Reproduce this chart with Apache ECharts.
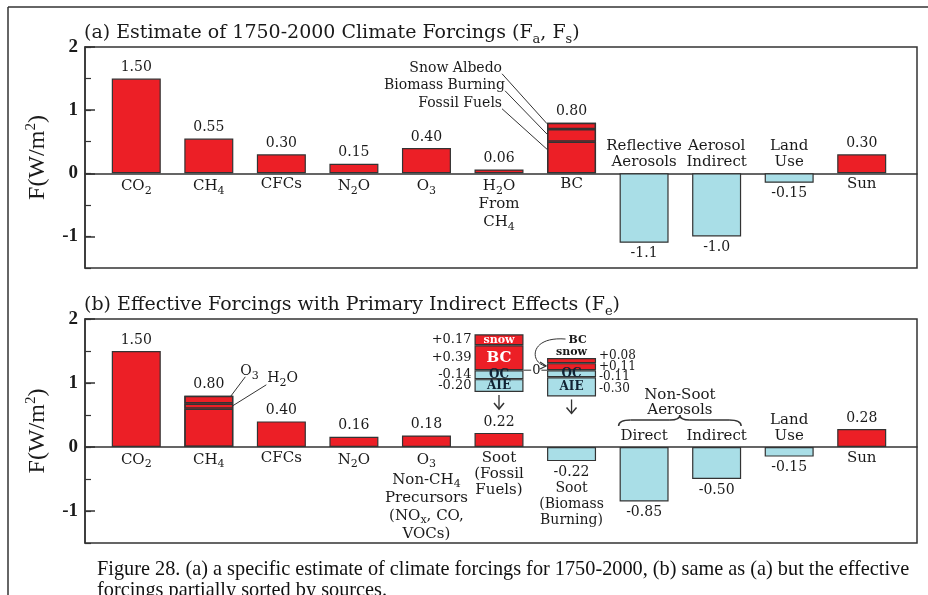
<!DOCTYPE html>
<html>
<head>
<meta charset="utf-8">
<script src="https://cdn.jsdelivr.net/npm/echarts@6/dist/echarts.min.js"></script>
<style>
  html, body { margin: 0; padding: 0; background: #fff; }
  #chart { width: 928px; height: 595px; }
</style>
</head>
<body>
<div id="chart"></div>
<script>
// ---- Panel (a): estimate of 1750-2000 climate forcings ----
const catsA = ['CO{s|2}', 'CH{s|4}', 'CFCs', 'N{s|2}O', 'O{s|3}', 'H{s|2}O\nFrom\nCH{s|4}', 'BC',
  'Reflective\nAerosols', 'Aerosol\nIndirect', 'Land\nUse', 'Sun'];
const valsA = [1.50, 0.55, 0.30, 0.15, 0.40, 0.06, 0.80, -1.1, -1.0, -0.15, 0.30];
const decA = [2, 2, 2, 2, 2, 2, 2, 1, 1, 2, 2];
// black carbon split: fossil fuels, biomass burning, snow albedo
const bcPartNames = ['Fossil Fuels', 'Biomass Burning', 'Snow Albedo'];
const bcParts = [0.50, 0.20, 0.10];

// ---- Panel (b): effective forcings with primary indirect effects ----
const catsB = ['CO{s|2}', 'CH{s|4}', 'CFCs', 'N{s|2}O',
  'O{s|3}\nNon-CH{s|4}\nPrecursors\n(NO{s|x}, CO,\nVOCs)',
  'Soot\n(Fossil\nFuels)', 'Soot\n(Biomass\nBurning)', 'Direct', 'Indirect', 'Land\nUse', 'Sun'];
const valsB = [1.50, 0.80, 0.40, 0.16, 0.18, 0.22, -0.22, -0.85, -0.50, -0.15, 0.28];
const decB = [2, 2, 2, 2, 2, 2, 2, 2, 2, 2, 2];
// methane split: direct, stratospheric H2O, O3
const ch4Parts = [0.60, 0.08, 0.12];
// soot components (BC, snow albedo, organic carbon, aerosol indirect effect)
const sootNames = ['BC', 'snow', 'OC', 'AIE'];
const sootFossil = [0.39, 0.17, -0.14, -0.20];
const sootBiomass = [0.11, 0.08, -0.11, -0.30];
const FOSSIL = 5, BIOMASS = 6;

const yTicks = [-1, 0, 1, 2];

const RED = '#ec1f26', CYAN = '#a9dee7', EDGE = '#333';
const SERIF = '"DejaVu Serif", serif';
const TIMES = '"Liberation Serif", serif';
const TXT = '#1a1a1a';
const BARW = 49;

const rich = {
  s: { fontFamily: SERIF, fontSize: 11, lineHeight: 20, verticalAlign: 'bottom', color: TXT }
};
const labelBase = { fontFamily: SERIF, fontSize: 14, lineHeight: 16, color: TXT, rich: rich };

const chart = echarts.init(document.getElementById('chart'), null, { renderer: 'canvas' });

const frameGrid = (top, height) => ({
  left: 85, right: 11, top: top, height: height, show: true,
  borderColor: EDGE, borderWidth: 1.5, backgroundColor: 'transparent'
});
const barGrid = (top, height) => ({ left: 100, width: 798, top: top, height: height });

const frameX = (g) => ({
  gridIndex: g, type: 'value', min: 0, max: 1,
  axisLine: { show: true, onZero: true, lineStyle: { color: EDGE, width: 1.5 } },
  axisTick: { show: false }, axisLabel: { show: false }, splitLine: { show: false }
});
const hiddenCat = (g, n) => ({
  gridIndex: g, type: 'category', data: Array.from({ length: n }, (_, i) => i), show: false
});
const majorY = (g) => ({
  gridIndex: g, type: 'value', min: -1.5, max: 2, position: 'left',
  axisLine: { show: true, onZero: false, lineStyle: { color: EDGE, width: 1.5 } },
  axisTick: { show: true, inside: true, length: 10, customValues: yTicks, lineStyle: { color: EDGE, width: 1.5 } },
  axisLabel: { customValues: yTicks, margin: 7, fontFamily: TIMES, fontSize: 19, fontWeight: 'bold', color: TXT },
  splitLine: { show: false },
  name: 'F(W/m{p|2})', nameLocation: 'middle', nameGap: 33, nameRotate: 90,
  nameTextStyle: {
    fontFamily: TIMES, fontSize: 24, color: TXT, lineHeight: 28,
    rich: { p: { fontFamily: TIMES, fontSize: 15, verticalAlign: 'top', lineHeight: 28, color: TXT } }
  }
});
const minorY = (g) => ({
  gridIndex: g, type: 'value', min: -1.5, max: 2, interval: 0.5, position: 'left',
  axisLine: { show: false }, axisLabel: { show: false }, splitLine: { show: false },
  axisTick: { show: true, inside: true, length: 6, lineStyle: { color: EDGE, width: 1.2 } }
});
const hiddenY = (g, min, max) => ({ gridIndex: g, type: 'value', min: min, max: max, show: false, splitLine: { show: false } });

// main value bars of a panel
function mainBars(vals, dec, xi, yi, nameUnder) {
  return {
    type: 'bar', xAxisIndex: xi, yAxisIndex: yi, barWidth: BARW, barGap: '-100%', z: 2,
    data: vals.map((v) => ({
      value: v,
      itemStyle: { color: v >= 0 ? RED : CYAN },
      label: { position: v >= 0 ? 'top' : 'bottom' }
    })),
    itemStyle: { borderColor: EDGE, borderWidth: 1.2 },
    label: Object.assign({}, labelBase, {
      show: true, distance: 3,
      formatter: (p) => {
        const t = vals[p.dataIndex].toFixed(dec[p.dataIndex]);
        return nameUnder && nameUnder[p.dataIndex] ? t + '\n' + nameUnder[p.dataIndex] : t;
      }
    }),
    emphasis: { disabled: true }, silent: true, animation: false
  };
}
// outlined sub-divisions inside a single bar
function splitBars(parts, idx, n, xi, yi, stackName) {
  return parts.map((v) => ({
    type: 'bar', xAxisIndex: xi, yAxisIndex: yi, barWidth: BARW, barGap: '-100%', stack: stackName, z: 3,
    data: Array.from({ length: n }, (_, i) => (i === idx ? v : null)),
    itemStyle: { color: 'transparent', borderColor: EDGE, borderWidth: 1.4 },
    emphasis: { disabled: true }, silent: true, animation: false
  }));
}
// category names placed at the zero line
function nameScatter(cats, vals, xi, yi, skip) {
  return {
    type: 'scatter', xAxisIndex: xi, yAxisIndex: yi, symbolSize: 0, z: 4,
    itemStyle: { opacity: 1, color: TXT },
    data: cats.map((c, i) => ({
      value: [i, 0],
      label: { position: vals[i] >= 0 ? 'bottom' : 'top' }
    })),
    label: Object.assign({}, labelBase, {
      show: true, distance: 3, fontSize: 15,
      formatter: (p) => (skip && skip[p.dataIndex] ? '' : cats[p.dataIndex])
    }),
    emphasis: { disabled: true }, silent: true, animation: false
  };
}

const n = catsA.length;
const nameUnderB = {}; nameUnderB[BIOMASS] = catsB[BIOMASS];

// soot component stacks drawn above the soot bars
const sootColors = [RED, RED, CYAN, CYAN];
const fmtSigned = (v) => (v > 0 ? '+' : '') + v.toFixed(2);
const sideOffsetBiomass = [[0, 0], [0, -5], [0, 3], [0, 2]];
const sootStacks = sootNames.map((nm, k) => ({
  type: 'bar', xAxisIndex: 4, yAxisIndex: 6, barWidth: BARW, barGap: '-100%', stack: 'soot', z: 2,
  data: Array.from({ length: n }, (_, i) => {
    if (i === FOSSIL) return { value: sootFossil[k], label: { position: 'left', fontSize: 13 } };
    if (i === BIOMASS) return { value: sootBiomass[k], label: { position: 'right', fontSize: 12, offset: sideOffsetBiomass[k] } };
    return null;
  }),
  itemStyle: { color: sootColors[k], borderColor: EDGE, borderWidth: 1.2 },
  label: {
    show: true, distance: 3, fontFamily: SERIF, color: TXT, lineHeight: 12,
    formatter: (p) => fmtSigned(p.value)
  },
  emphasis: { disabled: true }, silent: true, animation: false
}));
const nameStyles = [
  { color: '#fff', fontSize: 15, fontWeight: 'bold' },
  { color: '#fff', fontSize: 11, fontWeight: 'bold' },
  { color: '#123', fontSize: 12, fontWeight: 'bold' },
  { color: '#123', fontSize: 12, fontWeight: 'bold' }
];
const sootNameStacks = sootNames.map((nm, k) => ({
  type: 'bar', xAxisIndex: 4, yAxisIndex: 6, barWidth: BARW, barGap: '-100%', stack: 'sootNames', z: 3,
  data: Array.from({ length: n }, (_, i) => {
    if (i === FOSSIL) return { value: sootFossil[k] };
    if (i === BIOMASS) return { value: sootBiomass[k], label: { show: k >= 2 } };
    return null;
  }),
  itemStyle: { color: 'transparent', borderWidth: 0 },
  label: Object.assign({ show: true, position: 'inside', fontFamily: SERIF, lineHeight: 12, formatter: nm }, nameStyles[k]),
  emphasis: { disabled: true }, silent: true, animation: false
}));

const option = {
  animation: false,
  grid: [frameGrid(47, 221), barGrid(47, 221), frameGrid(319, 224), barGrid(319, 224), barGrid(319, 224)],
  xAxis: [frameX(0), hiddenCat(1, n), frameX(2), hiddenCat(3, n), hiddenCat(4, n)],
  yAxis: [majorY(0), minorY(0), hiddenY(1, -1.5, 2), majorY(2), minorY(2), hiddenY(3, -1.5, 2), hiddenY(4, -2.7, 0.8)],
  series: [
    mainBars(valsA, decA, 1, 2, null),
    ...splitBars(bcParts, 6, n, 1, 2, 'bcA'),
    nameScatter(catsA, valsA, 1, 2, null),
    mainBars(valsB, decB, 3, 5, nameUnderB),
    ...splitBars(ch4Parts, 1, n, 3, 5, 'ch4B'),
    nameScatter(catsB, valsB, 3, 5, nameUnderB),
    ...sootStacks,
    ...sootNameStacks
  ]
};
chart.setOption(option);

// ---- annotations positioned from the axes ----
const pa = (i, v) => chart.convertToPixel({ xAxisIndex: 1, yAxisIndex: 2 }, [i, v]);
const pb = (i, v) => chart.convertToPixel({ xAxisIndex: 3, yAxisIndex: 5 }, [i, v]);
const pin = (i, v) => chart.convertToPixel({ xAxisIndex: 4, yAxisIndex: 6 }, [i, v]);
const H = BARW / 2;
const line = (x1, y1, x2, y2, w) => ({
  type: 'line', shape: { x1, y1, x2, y2 }, style: { stroke: EDGE, lineWidth: w || 1 }, silent: true, z: 10
});
const curve = (x1, y1, cx, cy, x2, y2, w) => ({
  type: 'bezierCurve', shape: { x1, y1, x2, y2, cpx1: cx, cpy1: cy },
  style: { stroke: EDGE, lineWidth: w || 1, fill: null }, silent: true, z: 10
});
const text = (x, y, t, o) => ({
  type: 'text', x, y, silent: true, z: 10,
  style: Object.assign({ text: t, fill: TXT, fontFamily: SERIF, fontSize: 14, align: 'left', verticalAlign: 'middle', rich: rich }, o || {})
});
const g = [];

// frame of the figure
g.push(line(8, 7, 928, 7, 1.5), line(8, 7, 8, 595, 1.5));

// titles
const titleRich = { s: { fontFamily: SERIF, fontSize: 13, verticalAlign: 'bottom', lineHeight: 27, fill: TXT } };
g.push(text(84, 33, '(a) Estimate of 1750-2000 Climate Forcings (F{s|a}, F{s|s})', { fontSize: 19, lineHeight: 23, rich: titleRich }));
g.push(text(84, 305, '(b) Effective Forcings with Primary Indirect Effects (F{s|e})', { fontSize: 19, lineHeight: 23, rich: titleRich }));

// BC components in panel (a)
const bcTop = pa(6, valsA[6]);
const bcLeft = bcTop[0] - H;
const bcCuts = [0.38, 0.62, 0.785];
const bcTextDy = [-19, -37, -54];
const bcTextDx = [-45, -42, -45];
for (let k = 0; k < 3; k++) {
  const ty = bcTop[1] + bcTextDy[k];
  const tx = bcLeft + bcTextDx[k];
  g.push(text(tx, ty, bcPartNames[k], { align: 'right' }));
  g.push(line(tx, ty + 5, bcLeft, pa(6, bcCuts[k])[1]));
}

// CH4 components in panel (b)
const ch4Top = pb(1, valsB[1]);
const ch4Right = ch4Top[0] + H;
g.push(text(ch4Right + 7, ch4Top[1] - 24, 'O{s|3}', { fontSize: 14 }));
g.push(line(ch4Right + 12, ch4Top[1] - 19, ch4Right - 3, ch4Top[1] + 1));
g.push(text(ch4Right + 34, ch4Top[1] - 17, 'H{s|2}O', { fontSize: 14 }));
g.push(line(ch4Right + 33, ch4Top[1] - 11, ch4Right - 1, pb(1, 0.64)[1]));

// zero reference shared by the two soot stacks
const z0 = pin(FOSSIL, 0), z1 = pin(BIOMASS, 0);
g.push(line(z0[0] + H, z0[1], z1[0] - H, z1[1]));
g.push(text((z0[0] + z1[0]) / 2 + 1, z0[1], '0', { align: 'center', fontSize: 13, backgroundColor: '#fff', padding: [0, 1] }));

// arrows from each stack down to its net bar
const arrow = (x, y1, y2) => {
  g.push(line(x, y1, x, y2, 1.3));
  g.push({ type: 'polyline', shape: { points: [[x - 5, y2 - 6], [x, y2], [x + 5, y2 - 6]] }, style: { stroke: EDGE, lineWidth: 1.5, fill: null }, silent: true, z: 10 });
};
const ffBottom = pin(FOSSIL, sootFossil[2] + sootFossil[3]);
const bbBottom = pin(BIOMASS, sootBiomass[2] + sootBiomass[3]);
arrow(ffBottom[0], ffBottom[1] + 3, ffBottom[1] + 17);
arrow(bbBottom[0], bbBottom[1] + 3, bbBottom[1] + 17);

// biomass stack: labels for the thin positive layers
const bbTop = pin(BIOMASS, sootBiomass[0] + sootBiomass[1]);
g.push(text(bbTop[0], bbTop[1] - 6, 'snow', { align: 'center', fontSize: 11, fontWeight: 'bold' }));
g.push(text(bbTop[0] - 3, bbTop[1] - 18, 'BC', { align: 'left', fontSize: 11, fontWeight: 'bold' }));
const bcMid = pin(BIOMASS, sootBiomass[0] * 0.6);
const ax = bcMid[0] - H - 1, ay = bcMid[1];
g.push({
  type: 'bezierCurve', shape: { x1: bbTop[0] - 6, y1: bbTop[1] - 19, x2: ax, y2: ay, cpx1: ax - 18, cpy1: bbTop[1] - 22, cpx2: ax - 16, cpy2: ay - 2 },
  style: { stroke: EDGE, lineWidth: 1, fill: null }, silent: true, z: 10
});
g.push({ type: 'polyline', shape: { points: [[ax - 6, ay - 4], [ax, ay], [ax - 6, ay + 3]] }, style: { stroke: EDGE, lineWidth: 1.2, fill: null }, silent: true, z: 10 });

// non-soot aerosols brace over Direct / Indirect
const dz = pb(7, 0), iz = pb(8, 0);
const bx1 = dz[0] - H - 1, bx2 = iz[0] + H, bm = (bx1 + bx2) / 2, by = dz[1] - 27;
g.push(text(bm, dz[1] - 52, 'Non-Soot', { align: 'center', fontSize: 15 }));
g.push(text(bm, dz[1] - 37, 'Aerosols', { align: 'center', fontSize: 15 }));
g.push(curve(bx1, by + 6, bx1, by, bx1 + 12, by, 1.5));
g.push(line(bx1 + 12, by, bm - 10, by, 1.5));
g.push(curve(bm - 10, by, bm, by, bm, by - 5, 1.5));
g.push(curve(bm, by - 5, bm, by, bm + 10, by, 1.5));
g.push(line(bm + 10, by, bx2 - 12, by, 1.5));
g.push(curve(bx2 - 12, by, bx2, by, bx2, by + 6, 1.5));

// caption
g.push(text(97, 570, 'Figure 28. (a) a specific estimate of climate forcings for 1750-2000, (b) same as (a) but the effective',
  { fontFamily: TIMES, fontSize: 20.3, fill: '#111' }));
g.push(text(97, 591, 'forcings partially sorted by sources.', { fontFamily: TIMES, fontSize: 20.3, fill: '#111' }));

chart.setOption({ graphic: { elements: g } });
</script>
</body>
</html>
